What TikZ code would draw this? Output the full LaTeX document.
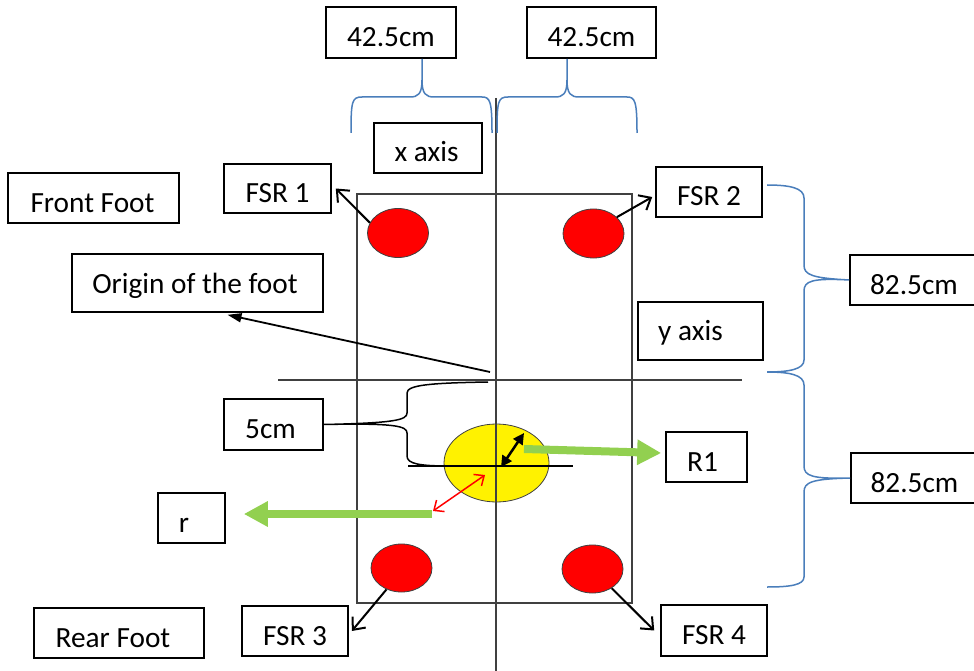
\documentclass[tikz,border=0pt]{standalone}
\usepackage{fontspec}
\setmainfont{Carlito}
\usetikzlibrary{arrows.meta,shapes.geometric}
\definecolor{bracecol}{HTML}{4A7EBB}
\definecolor{leaf}{HTML}{92D050}
\definecolor{axisgray}{HTML}{404040}
\begin{document}
\begin{tikzpicture}[x=1pt,y=-1pt,font=\fontsize{29.3}{35}\selectfont,
  lbl/.style={draw, line width=1.6pt, inner sep=0pt, text height=30pt, text depth=2pt},
  reddot/.style={ellipse, draw=black!75, line width=0.8pt, fill=red, inner sep=0pt,
    minimum width=61pt, minimum height=49pt},
  fsrarrow/.style={line width=2pt, -{Straight Barb[length=10pt,width=17pt]}},
  fat/.style={leaf, line width=8pt, -{Triangle[length=24pt,width=24pt]}},
  bracepath/.style={bracecol, line width=1.5pt},
  axisline/.style={axisgray, line width=1.1pt}]
\clip (0,0) rectangle (974,671);
\fill[white] (0,0) rectangle (974,671);

% foot outline
\draw[axisline] (357,194) rectangle (632,603);

% sensors and centre of pressure
\node[reddot] (e1) at (398,233) {};
\node[reddot] (e2) at (593.5,233.5) {};
\node[reddot, minimum height=48pt] (e3) at (401.5,568) {};
\node[reddot, minimum height=48pt] (e4) at (592.5,569) {};
\node[ellipse, draw=black!75, line width=0.8pt, fill=yellow, inner sep=0pt,
  minimum width=105pt, minimum height=78pt] (ye) at (496.5,463) {};

% axes
\draw[axisline] (496,98) -- (496,671);
\draw[axisline] (278,380) -- (742,380);
\draw[line width=1.5pt] (408,466) -- (573,466);

% labels (trailing space nudges text left inside its box)
\node[lbl, minimum width=130pt, minimum height=51pt] (w1) at (391,32.5) {42.5cm};
\node[lbl, minimum width=129pt, minimum height=51pt] (w2) at (591.5,32.5) {42.5cm};
\node[lbl, minimum width=108pt, minimum height=50pt] (xax) at (428,148) {x axis\hspace*{3pt}};
\node[lbl, minimum width=171pt, minimum height=50pt] (ff) at (93.5,198) {Front Foot\hspace*{2pt}};
\node[lbl, minimum width=107pt, minimum height=49pt] (fsr1) at (277.5,188.5) {FSR 1};
\node[lbl, minimum width=251pt, minimum height=58pt, text depth=10pt] (orig) at (197.5,283) {Origin of the foot\hspace*{5pt}};
\node[lbl, minimum width=106pt, minimum height=50pt] (fsr2) at (709,192) {FSR 2};
\node[lbl, minimum width=125pt, minimum height=58pt, text depth=12pt] (yax) at (700.5,331) {y axis\hspace*{20pt}};
\node[lbl, minimum width=128pt, minimum height=50pt] (d1) at (914,280) {82.5cm};
\node[lbl, minimum width=127pt, minimum height=50pt] (d2) at (914.5,478) {82.5cm};
\node[lbl, minimum width=81pt, minimum height=50pt] (r1) at (706.5,457) {R1\hspace*{8pt}};
\node[lbl, minimum width=99pt, minimum height=51pt] (five) at (273.5,424.5) {5cm\hspace*{6pt}};
\node[lbl, minimum width=67pt, minimum height=50pt] (rr) at (191.5,518) {r\hspace*{15pt}};
\node[lbl, minimum width=170pt, minimum height=50pt] (rf) at (119,633) {Rear Foot\hspace*{12pt}};
\node[lbl, minimum width=106pt, minimum height=50pt] (fsr3) at (295,631) {FSR 3};
\node[lbl, minimum width=106pt, minimum height=51pt] (fsr4) at (714,630.5) {FSR 4};

% width braces
\draw[bracepath] (351,133) .. controls (351,101) and (352,97) .. (362,97) -- (410,97)
  .. controls (418,97) and (422,94) .. (422,80) -- (422,59)
  (422,80) .. controls (422,94) and (426,97) .. (434,97) -- (482,97)
  .. controls (490,97) and (492,101) .. (492,133);
\draw[bracepath] (497,133) .. controls (497,101) and (498,97) .. (508,97) -- (555,97)
  .. controls (563,97) and (567,94) .. (567,80) -- (567,59)
  (567,80) .. controls (567,94) and (571,97) .. (579,97) -- (627,97)
  .. controls (635,97) and (637,101) .. (637,133);

% length braces
\draw[bracepath] (767,185) .. controls (790,185) and (804,188) .. (804,198) -- (804,265)
  .. controls (804,275) and (812,278) .. (d1.west)
  .. controls (812,278) and (804,281) .. (804,291) -- (804,360)
  .. controls (804,369) and (790,372) .. (767,372);
\draw[bracepath] (767,372) .. controls (790,372) and (804,375) .. (804,385) -- (804,466)
  .. controls (804,476) and (812,479) .. (d2.west)
  .. controls (812,479) and (804,482) .. (804,492) -- (804,577)
  .. controls (804,585) and (790,587) .. (767,587);

% 5cm brace
\draw[line width=1.5pt] (488,382) .. controls (430,383) and (407,385) .. (407,393) -- (407,413)
  .. controls (407,420) and (395,423) .. (five.east)
  .. controls (395,423) and (407,426) .. (407,433) -- (407,456)
  .. controls (407,464) and (420,466) .. (450,466);

% sensor pointers
\draw[fsrarrow] (e1.160) -- ([xshift=4pt]fsr1.east);
\draw[fsrarrow] (e2.35) -- ([xshift=-3pt,yshift=-5pt]fsr2.west);
\draw[fsrarrow] (e3.235) -- ([xshift=3pt]fsr3.east);
\draw[fsrarrow] (e4.-45) -- ([xshift=-6pt]fsr4.west);

% origin pointer
\coordinate (oc) at (490,372);
\draw[line width=1.8pt, -{Triangle[length=14pt,width=9pt]}] (oc) -- ([xshift=30pt,yshift=-2pt]orig.south);

% radius markers
\coordinate (ctr) at (501,467);
\coordinate (rim) at (524,433);
\draw[line width=2.5pt, {Triangle[length=11pt,width=11pt]}-{Triangle[length=11pt,width=11pt]}] (ctr) -- (rim);
\coordinate (ra) at (433,511);
\coordinate (rb) at (485,475);
\draw[red, line width=1.5pt, {Straight Barb[length=8pt,width=14pt]}-{Straight Barb[length=8pt,width=14pt]}] (ra) -- (rb);

% thick green pointers
\coordinate (g1) at (524,449);
\draw[fat] (g1) -- ([xshift=-4pt,yshift=4pt]r1.west);
\coordinate (g2) at (432,514);
\draw[fat] (g2) -- ([xshift=18pt,yshift=4pt]rr.east);
\end{tikzpicture}
\end{document}
